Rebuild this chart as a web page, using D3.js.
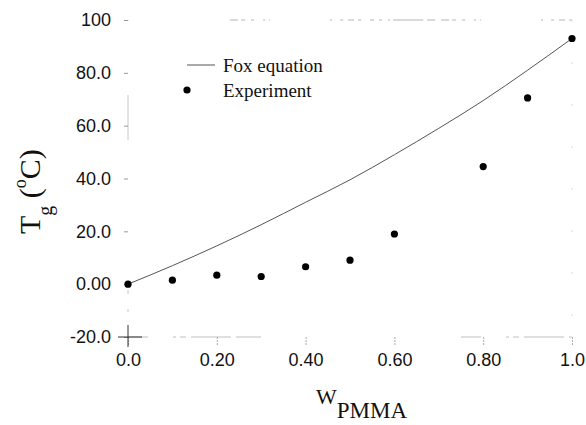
<!DOCTYPE html>
<html>
<head>
<meta charset="utf-8">
<script src="https://cdn.jsdelivr.net/npm/d3@7.9.0/dist/d3.min.js"></script>
<style>
  body { margin: 0; background: #fff; }
  svg { display: block; }
</style>
</head>
<body>
<div id="chart"></div>
<script>
// values
const wPmma = [0.0, 0.1, 0.2, 0.3, 0.4, 0.5, 0.6, 0.8, 0.9, 1.0];
const tgExperiment = [0.0, 1.5, 3.4, 2.9, 6.6, 9.1, 19.0, 44.5, 70.5, 93.0];
const wFox = [0.0, 0.1, 0.2, 0.3, 0.4, 0.5, 0.6, 0.7, 0.8, 0.9, 1.0];
const tgFox = [0.0, 7.0, 14.5, 22.5, 31.0, 39.5, 49.0, 59.0, 69.5, 81.0, 93.0];
const xTicks = [0, 0.2, 0.4, 0.6, 0.8, 1.0];
const xTickLabels = ['0.0', '0.20', '0.40', '0.60', '0.80', '1.0'];
const yTicks = [-20, 0, 20, 40, 60, 80, 100];
const yTickLabels = ['-20.0', '0.00', '20.0', '40.0', '60.0', '80.0', '100'];
const legendLabels = ['Fox equation', 'Experiment'];

const width = 586;
const height = 425;
const margin = { top: 20, right: 14, bottom: 88, left: 128 };

const svg = d3.select('#chart')
  .append('svg')
  .attr('width', width)
  .attr('height', height);

const x = d3.scaleLinear().domain([0, 1]).range([margin.left, width - margin.right]);
const y = d3.scaleLinear().domain([-20, 100]).range([height - margin.bottom, margin.top]);

// faint scanned-looking frame
const frame = svg.append('g')
  .attr('fill', 'none')
  .attr('stroke-width', 1);
frame.append('line')
  .attr('x1', x(0.23)).attr('x2', x(1)).attr('y1', y(100)).attr('y2', y(100))
  .attr('stroke', '#b5b5b5')
  .attr('stroke-dasharray', '8,3,4,6,3,9,2,4,1,60,2,8,3,5,6,4,3,9,4,5,3,6,2,3,30,4,8,6');
frame.append('line')
  .attr('x1', x(1)).attr('x2', x(1)).attr('y1', y(100)).attr('y2', y(-20))
  .attr('stroke', '#dcdcdc')
  .attr('stroke-dasharray', '2,40');
frame.append('line')
  .attr('x1', x(0)).attr('x2', x(0)).attr('y1', y(100)).attr('y2', y(-20))
  .attr('stroke', '#c8c8c8')
  .attr('stroke-dasharray', '1,74,45,150,4,15,3,200');
frame.append('line')
  .attr('x1', x(0)).attr('x2', x(1)).attr('y1', y(-20)).attr('y2', y(-20))
  .attr('stroke', '#c0c0c0')
  .attr('stroke-dasharray', '20,25,3,4,6,5,40,5,25,200');

// y axis
const yAxis = svg.append('g')
  .attr('transform', `translate(${x(0)},0)`)
  .call(d3.axisLeft(y).tickValues(yTicks).tickSize(4).tickPadding(13)
    .tickFormat((d, i) => yTickLabels[i]));
yAxis.select('.domain').remove();
yAxis.selectAll('.tick line').attr('stroke', '#999');
yAxis.selectAll('text')
  .attr('font-family', 'Liberation Sans, Arial, sans-serif')
  .attr('font-size', 18)
  .attr('fill', '#111');

// x axis
const xAxis = svg.append('g')
  .attr('transform', `translate(0,${y(-20)})`)
  .call(d3.axisBottom(x).tickValues(xTicks).tickSize(8).tickPadding(8)
    .tickFormat((d, i) => xTickLabels[i]));
xAxis.select('.domain').remove();
xAxis.selectAll('.tick line').attr('stroke', '#aaa').attr('stroke-dasharray', '2,1');
xAxis.selectAll('text')
  .attr('font-family', 'Liberation Sans, Arial, sans-serif')
  .attr('font-size', 18)
  .attr('fill', '#111');

// cross at origin of the frame
svg.append('line')
  .attr('x1', x(0)).attr('x2', x(0)).attr('y1', y(-20) - 12).attr('y2', y(-20) + 10)
  .attr('stroke', '#333');
svg.append('line')
  .attr('x1', x(0) - 10).attr('x2', x(0) + 14).attr('y1', y(-20)).attr('y2', y(-20))
  .attr('stroke', '#333');

// Fox equation curve
const foxPoints = wFox.map((w, i) => [w, tgFox[i]]);
svg.append('path')
  .datum(foxPoints)
  .attr('fill', 'none')
  .attr('stroke', '#555')
  .attr('stroke-width', 1)
  .attr('d', d3.line().x(d => x(d[0])).y(d => y(d[1])).curve(d3.curveMonotoneX));

// experimental points
svg.append('g')
  .selectAll('circle')
  .data(wPmma.map((w, i) => [w, tgExperiment[i]]))
  .join('circle')
  .attr('cx', d => x(d[0]))
  .attr('cy', d => y(d[1]))
  .attr('r', 3.6)
  .attr('fill', '#000');

// legend
const legend = svg.append('g')
  .attr('font-family', 'Liberation Serif, Times New Roman, serif')
  .attr('font-size', 19)
  .attr('fill', '#111');
legend.append('line')
  .attr('x1', 187).attr('x2', 215).attr('y1', 65).attr('y2', 65)
  .attr('stroke', '#555');
legend.append('text').attr('x', 223).attr('y', 72).text(legendLabels[0]);
legend.append('circle').attr('cx', 187).attr('cy', 90).attr('r', 3.6).attr('fill', '#000');
legend.append('text').attr('x', 223).attr('y', 97).text(legendLabels[1]);

// axis titles
const xTitle = svg.append('text')
  .attr('x', 316)
  .attr('y', 404)
  .attr('font-family', 'Liberation Serif, Times New Roman, serif')
  .attr('font-size', 22)
  .attr('fill', '#111');
xTitle.append('tspan').text('W');
xTitle.append('tspan').attr('dy', 14).attr('font-size', 23).text('PMMA');

const yTitle = svg.append('text')
  .attr('transform', 'translate(40,234) rotate(-90)')
  .attr('font-family', 'Liberation Serif, Times New Roman, serif')
  .attr('font-size', 30)
  .attr('fill', '#111');
yTitle.append('tspan').text('T');
yTitle.append('tspan').attr('dy', 12).attr('font-size', 20).text('g');
yTitle.append('tspan').attr('dy', -12).text(' (');
yTitle.append('tspan').attr('dy', -14).attr('font-size', 18).text('o');
yTitle.append('tspan').attr('dy', 14).text('C)');
</script>
</body>
</html>
